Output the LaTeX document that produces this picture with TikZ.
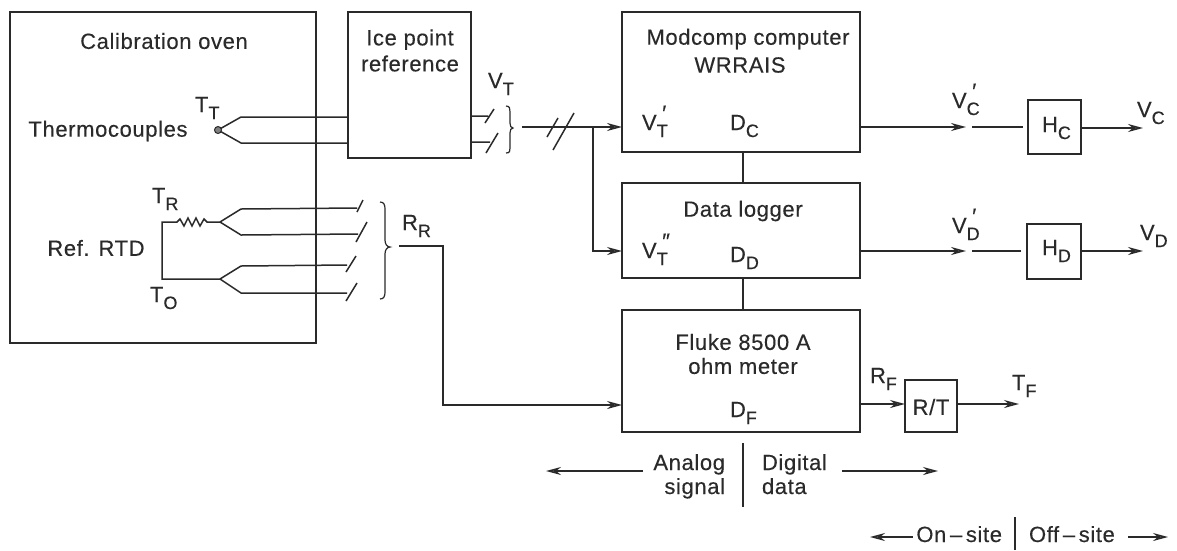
\documentclass[tikz,border=0pt]{standalone}
\usepackage{fontspec}
\setmainfont{Liberation Sans}[LetterSpace=2.8,FakeBold=0.25]
\usetikzlibrary{arrows.meta}
\definecolor{ink}{HTML}{2A2A2A}
\newcommand\lab[3]{#1\rlap{\raisebox{-0.32em}{\fontsize{18}{18}\selectfont #2}}\rlap{\raisebox{0.42em}{\fontsize{22}{22}\selectfont\hspace{0.25em}#3}}\phantom{\fontsize{18}{18}\selectfont #2}}
\tikzset{
  every node/.style={text=ink,font=\fontsize{22}{25}\selectfont,inner sep=0pt,outer sep=0pt},
  blk/.style={draw=ink,line width=1.8pt,rectangle},
  txt/.style={align=center},
  lbl/.style={anchor=base west},
  wire/.style={draw=ink,line width=1.5pt},
  flow/.style={wire,-{Stealth[length=15pt,width=8pt,fill=gray]}},
  rev/.style={wire,{Stealth[length=15pt,width=8pt,fill=gray]}-}
}
\begin{document}
\begin{tikzpicture}[x=1pt,y=-1pt]
\useasboundingbox (0,0) rectangle (1177,550);
\fill[white] (0,0) rectangle (1177,550);
% boxes
\node[blk,minimum width=306pt,minimum height=331pt] (oven) at (163,177.5) {};
\node[blk,minimum width=123pt,minimum height=146pt] (ice) at (409.5,85) {};
\node[blk,minimum width=238pt,minimum height=140pt] (mod) at (741,82) {};
\node[blk,minimum width=238pt,minimum height=95pt] (log) at (741,230.5) {};
\node[blk,minimum width=238pt,minimum height=122pt] (fluke) at (741,371) {};
\node[blk,minimum width=53pt,minimum height=54pt] (hc) at (1054.5,127) {};
\node[blk,minimum width=54pt,minimum height=55pt] (hd) at (1054,251.5) {};
\node[blk,minimum width=52pt,minimum height=52pt] (rt) at (931,406) {};
% texts
\node[txt] (t1) at (164,41) {Calibration oven};
\node[txt] (t2) at (410,50.5) {Ice point\\[1pt]reference};
\node[txt] (t3) at (108,131) {Thermocouples};
\node[txt] (t4) at (96,248) {Ref. RTD};
\node[txt] (t5) at (748,39) {Modcomp computer};
\node[txt] (t6) at (740,65) {WRRAIS};
\node[txt] (t7) at (743,211) {Data logger};
\node[txt] (t8) at (743,354) {Fluke 8500 A\\[-1pt]ohm meter};
\node[txt] (t9) at (931,407) {R/T};
\node[lbl] (l1) at (195,112) {\lab{T}{T}{}};
\node[lbl] (l2) at (152,203) {\lab{T}{R}{}};
\node[lbl] (l3) at (150,302) {\lab{T}{O}{}};
\node[lbl] (l4) at (402,230) {\lab{R}{R}{}};
\node[lbl] (l5) at (488,88) {\lab{V}{T}{}};
\node[lbl] (l6) at (642,130) {\lab{V}{T}{′}};
\node[lbl] (l7) at (730,130) {\lab{D}{C}{}};
\node[lbl] (l8) at (642,258) {\lab{V}{T}{″}};
\node[lbl] (l9) at (730,262) {\lab{D}{D}{}};
\node[lbl] (l10) at (730,417) {\lab{D}{F}{}};
\node[lbl] (l11) at (952,108) {\lab{V}{C}{′}};
\node[lbl] (l12) at (952,233) {\lab{V}{D}{′}};
\node[lbl] (l13) at (1137,117) {\lab{V}{C}{}};
\node[lbl] (l14) at (1140,240) {\lab{V}{D}{}};
\node[lbl] (l15) at (1042,132) {\lab{H}{C}{}};
\node[lbl] (l16) at (1042,255) {\lab{H}{D}{}};
\node[lbl] (l17) at (870,383) {\lab{R}{F}{}};
\node[lbl] (l18) at (1012,390) {\lab{T}{F}{}};
\node[anchor=base east] (a1) at (725,470) {Analog};
\node[anchor=base east] (a3) at (725,494) {signal};
\node[anchor=base west] (a2) at (762,470) {Digital};
\node[anchor=base west] (a4) at (762,494) {data};
\node[anchor=base east] (s1) at (1002,542) {On\,–\,site};
\node[anchor=base west] (s2) at (1029,542) {Off\,–\,site};
% thermocouple
\coordinate (j1) at (218,130);
\coordinate (ia) at (348,117);
\coordinate (ib) at (348,143);
\draw[wire] (j1) -- (241,117) -- (ia);
\draw[wire] (j1) -- (241,143) -- (ib);
\fill[gray,draw=ink,line width=1pt] (j1) circle (3.5pt);
% ice outputs
\draw[wire] (471,116) -- (488,116) (485,123) -- (494,109);
\draw[wire] (471,142) -- (490,142) (486,153) -- (498,133);
\draw[wire,line width=1.2pt] (506,106) .. controls (510,106) and (510,109) .. (510,112) -- (510,123) .. controls (510,126) and (511,128) .. (513,128) .. controls (511,128) and (510,130) .. (510,133) -- (510,148) .. controls (510,151) and (510,153) .. (506,153);
\coordinate (busin) at (522,127);
\coordinate (busj) at (593,127);
\draw[wire] (busin) -- (busj);
\draw[wire] (547,137) -- (558,118) (553,150) -- (574,113);
\coordinate (mw) at (mod.west |- busj);
\coordinate (lw) at (622,251);
\draw[flow] (busj) -- (mw);
\draw[flow] (busj) |- (lw);
% RTD
\coordinate (rj1) at (220,222);
\coordinate (rj2) at (220,279);
\draw[wire] (rj1) -- (207,222) -- (204,219) -- (200,226) -- (196,218) -- (192,226) -- (188,218) -- (184,226) -- (180,219) -- (177,222) -- (162,222) -- (162,279) -- (rj2);
\draw[wire] (rj1) -- (241,209) -- (357,208) (357,212) -- (363,200);
\draw[wire] (rj1) -- (241,235) -- (358,234) (356,242) -- (367,222);
\draw[wire] (rj2) -- (241,266) -- (347,265) (346,272) -- (356,256);
\draw[wire] (rj2) -- (241,293) -- (347,293) (346,301) -- (357,283);
\draw[wire,line width=1.2pt] (380,202) .. controls (384,202) and (385,205) .. (385,209) -- (385,240) .. controls (385,244) and (387,247) .. (390,247) .. controls (387,247) and (385,250) .. (385,254) -- (385,292) .. controls (385,296) and (384,299) .. (380,299);
\coordinate (rr) at (399,246);
\coordinate (fw) at (fluke.west |- 0,405);
\draw[flow] (rr) -- (443,246) |- (fw);
% links
\draw[wire] (mod.south) ++(2,0) coordinate (mds) -- (mds |- log.north);
\draw[wire] (log.south) ++(2,0) coordinate (lds) -- (lds |- fluke.north);
% outputs
\coordinate (me) at (mod.east |- busj);
\coordinate (vc1) at (966,127);
\coordinate (vc2) at (972,127);
\draw[flow] (me) -- (vc1);
\draw[wire] (vc2) -- (1023,127);
\coordinate (le) at (log.east |- lw);
\coordinate (vd1) at (966,251);
\coordinate (vd2) at (972,251);
\draw[flow] (le) -- (vd1);
\draw[wire] (vd2) -- (1021,251);
\coordinate (hco) at (1143,128);
\coordinate (hdo) at (1143,251);
\draw[flow] (hc.east |- hco) -- (hco);
\draw[flow] (hd.east |- hdo) -- (hdo);
\draw[flow] (fluke.east |- 0,404) -- (rt.west |- 0,404);
\coordinate (to) at (1019,404);
\draw[flow] (rt.east |- to) -- (to);
% legend
\coordinate (b1) at (743,443);
\coordinate (b2) at (743,507);
\coordinate (b3) at (1015,517);
\coordinate (b4) at (1015,550);
\draw[wire] (b1) -- (b2);
\draw[wire] (b3) -- (b4);
\draw[rev] (546,471) -- (643,471);
\draw[flow] (842,471) -- (938,471);
\draw[rev] (870,537) -- (913,537);
\draw[flow] (1128,537) -- (1168,537);
\end{tikzpicture}
\end{document}
